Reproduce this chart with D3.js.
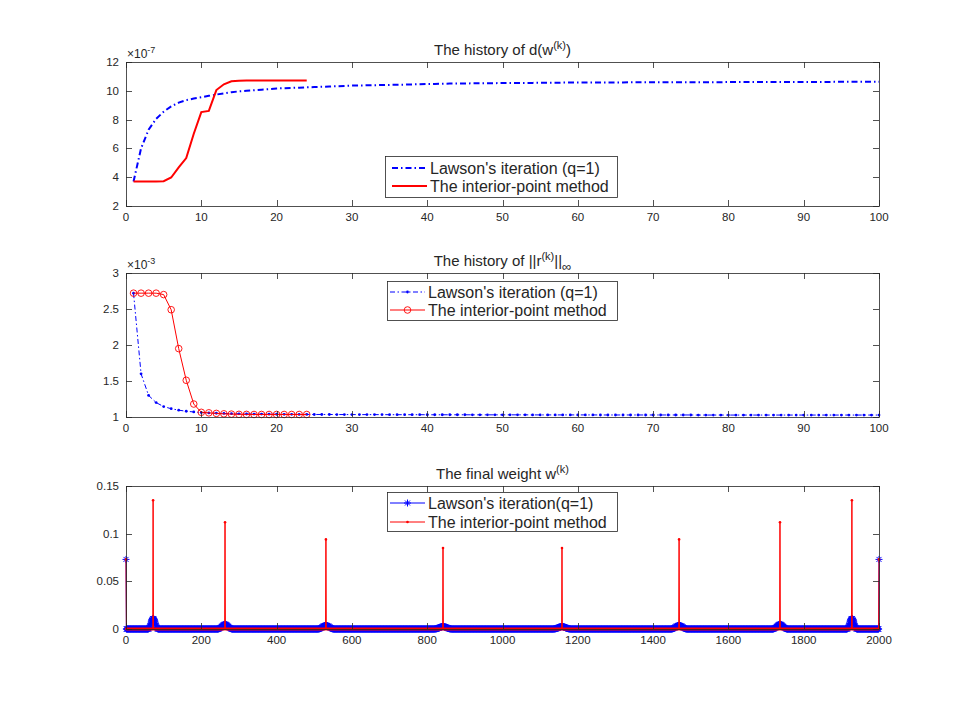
<!DOCTYPE html>
<html><head><meta charset="utf-8">
<script src="https://cdn.jsdelivr.net/npm/d3@7"></script>
<style>
body{margin:0;background:#fff}
svg{display:block}
text{font-family:"Liberation Sans",Arial,Helvetica,sans-serif;fill:#262626}
</style>
</head><body>
<svg id="c" width="972" height="707"></svg>
<script>
// ---------------- DATA ----------------
// Panel 1: history of d(w^(k)), values in units of 1e-7
const lawsonD = [3.70,6.0,7.3,8.05,8.55,8.92,9.18,9.35,9.46,9.55,
 9.65,9.74,9.82,9.9,9.96,10.0,10.04,10.08,10.12,10.16,
 10.18,10.2,10.22,10.24,10.26,10.28,10.3,10.32,10.34,10.36,
 10.37,10.38,10.39,10.4,10.41,10.42,10.43,10.44,10.46,10.47,
 10.48,10.49,10.5,10.5,10.51,10.52,10.52,10.53,10.53,10.54,
 10.54,10.55,10.55,10.55,10.56,10.56,10.56,10.57,10.57,10.57,
 10.57,10.58,10.58,10.58,10.58,10.58,10.59,10.59,10.59,10.59,
 10.59,10.59,10.6,10.6,10.6,10.6,10.6,10.6,10.6,10.61,
 10.61,10.61,10.61,10.61,10.61,10.61,10.61,10.61,10.61,10.61,
 10.61,10.61,10.61,10.62,10.62,10.62,10.62,10.62,10.62,10.62];
const interiorD = [3.7,3.7,3.7,3.7,3.72,3.98,4.68,5.33,7.02,8.52,8.6,10.05,10.45,10.66,10.7,10.72,
 10.72,10.72,10.72,10.72,10.72,10.72,10.72,10.72];
// Panel 2: history of ||r^(k)||_inf, values in units of 1e-3
const lawsonR = [2.72,1.60,1.30,1.20,1.145,1.115,1.095,1.08,1.07,1.062,
 1.056,1.052,1.049,1.046,1.044,1.042,1.041,1.04,1.039,1.038,
 1.037,1.037,1.036,1.036,1.035,1.035,1.035,1.034,1.034,1.034,
 1.033,1.033,1.033,1.033,1.032,1.032,1.032,1.032,1.032,1.031,
 1.031,1.031,1.031,1.031,1.031,1.030,1.030,1.030,1.030,1.030,
 1.030,1.030,1.030,1.029,1.029,1.029,1.029,1.029,1.029,1.029,
 1.029,1.029,1.028,1.028,1.028,1.028,1.028,1.028,1.028,1.028,
 1.028,1.028,1.028,1.028,1.028,1.027,1.027,1.027,1.027,1.027,
 1.027,1.027,1.027,1.027,1.027,1.027,1.027,1.027,1.027,1.027,
 1.027,1.027,1.027,1.027,1.027,1.027,1.027,1.027,1.027,1.027];
const interiorR = [2.72,2.72,2.72,2.72,2.70,2.49,1.95,1.51,1.18,1.065,1.058,1.05,1.044,1.04,1.037,1.036,
 1.035,1.035,1.035,1.035,1.035,1.035,1.035,1.035];
// Panel 3: final weights (index 0..2000); all other entries are 0
const weightCount = 2000;
const interiorSpikeIdx = [0,72,263,531,842,1158,1469,1737,1928,2000];
const interiorSpikeVal = [0.073,0.135,0.112,0.094,0.085,0.085,0.094,0.112,0.135,0.073];
const lawsonEndIdx = [0,2000];
const lawsonEndVal = [0.073,0.073];
const lawsonBumpCenter = [72,263,531,842,1158,1469,1737,1928];
const bumpA = [0.0003,0.0006,0.0011,0.0019,0.003,0.0044,0.0059,0.0074,0.0087,0.0097,0.0104,0.0108,0.011,
 0.0108,0.0104,0.0097,0.0087,0.0074,0.0059,0.0044,0.003,0.0019,0.0011,0.0006,0.0003];
const bumpB = [0.0001,0.0002,0.0003,0.0005,0.0007,0.001,0.0013,0.0017,0.0021,0.0025,0.0029,0.0033,0.0037,0.004,0.0043,0.0046,0.0048,0.0049,0.005,
 0.0049,0.0048,0.0046,0.0043,0.004,0.0037,0.0033,0.0029,0.0025,0.0021,0.0017,0.0013,0.001,0.0007,0.0005,0.0003,0.0002,0.0001];
const bumpC = [0.0001,0.0001,0.0002,0.0003,0.0004,0.0006,0.0008,0.001,0.0013,0.0016,0.0019,0.0022,0.0025,0.0028,0.003,0.0032,0.0034,0.0035,0.0036,0.0037,0.0038,
 0.0037,0.0036,0.0035,0.0034,0.0032,0.003,0.0028,0.0025,0.0022,0.0019,0.0016,0.0013,0.001,0.0008,0.0006,0.0004,0.0003,0.0002,0.0001,0.0001];
const bumpD = [0.0001,0.0001,0.0001,0.0002,0.0002,0.0003,0.0004,0.0005,0.0006,0.0008,0.001,0.0012,0.0014,0.0016,0.0018,0.002,0.0021,0.0022,0.0023,0.0024,0.0025,0.0025,0.0026,
 0.0025,0.0025,0.0024,0.0023,0.0022,0.0021,0.002,0.0018,0.0016,0.0014,0.0012,0.001,0.0008,0.0006,0.0005,0.0004,0.0003,0.0002,0.0002,0.0001,0.0001,0.0001];
const lawsonBumpProfile = [bumpA,bumpB,bumpC,bumpD,bumpD,bumpC,bumpB,bumpA];

// ticks
const iterXTicks = [0,10,20,30,40,50,60,70,80,90,100];
const dYTicks = [2,4,6,8,10,12];
const rYTicks = [1,1.5,2,2.5,3];
const wXTicks = [0,200,400,600,800,1000,1200,1400,1600,1800,2000];
const wYTicks = [0,0.05,0.1,0.15];

// legend labels
const legend1 = ["Lawson's iteration (q=1)","The interior-point method"];
const legend3 = ["Lawson's iteration(q=1)","The interior-point method"];

// ---------------- BUILD SERIES ----------------
const iterL = lawsonD.map((v,i)=>({k:i+1,v}));
const iterI = interiorD.map((v,i)=>({k:i+1,v}));
const resL = lawsonR.map((v,i)=>({k:i+1,v}));
const resI = interiorR.map((v,i)=>({k:i+1,v}));

const wL = new Array(weightCount+1).fill(0);
lawsonBumpCenter.forEach((c,j)=>{
  const p = lawsonBumpProfile[j]; const h=(p.length-1)/2;
  p.forEach((v,o)=>{ wL[c-h+o]=v; });
});
lawsonEndIdx.forEach((c,j)=>{ wL[c]=lawsonEndVal[j]; });
const wI = new Array(weightCount+1).fill(0);
interiorSpikeIdx.forEach((c,j)=>{ wI[c]=interiorSpikeVal[j]; });
const wLpts = wL.map((v,i)=>({k:i,v}));
const wIpts = wI.map((v,i)=>({k:i,v}));

// ---------------- DRAW ----------------
const svg = d3.select("#c");
const L=126, R=879;
const panels = [
  {top:62,bottom:206},
  {top:273,bottom:417},
  {top:486,bottom:629}
];
const axisCol="#262626";

function frame(p){
  const g = svg.append("g");
  g.append("rect").attr("x",L).attr("y",p.top).attr("width",R-L).attr("height",p.bottom-p.top)
    .attr("fill","#fff").attr("stroke","none");
  return g;
}
function axes(g,p,x,y,xt,yt){
  const tl=6;
  const gt=g.append("g").attr("stroke",axisCol).attr("stroke-width",0.8).attr("fill","none");
  gt.append("rect").attr("x",L+0.5).attr("y",p.top+0.5).attr("width",R-L).attr("height",p.bottom-p.top);
  xt.forEach(t=>{
    const px=Math.round(x(t))+0.5;
    gt.append("line").attr("x1",px).attr("x2",px).attr("y1",p.bottom).attr("y2",p.bottom-tl);
    gt.append("line").attr("x1",px).attr("x2",px).attr("y1",p.top).attr("y2",p.top+tl);
    g.append("text").attr("x",x(t)).attr("y",p.bottom+15).attr("text-anchor","middle")
      .attr("font-size","11.5px").text(String(t));
  });
  yt.forEach(t=>{
    const py=Math.round(y(t))+0.5;
    gt.append("line").attr("y1",py).attr("y2",py).attr("x1",L).attr("x2",L+tl);
    gt.append("line").attr("y1",py).attr("y2",py).attr("x1",R).attr("x2",R-tl);
    g.append("text").attr("x",L-7).attr("y",y(t)+4).attr("text-anchor","end")
      .attr("font-size","11.5px").text(String(t));
  });
}
function title(p, parts){
  const t = svg.append("text").attr("x",(L+R)/2).attr("y",p.top-7).attr("text-anchor","middle").attr("font-size","15px");
  parts.forEach(pt=>{
    const s=t.append("tspan").text(pt.t);
    if(pt.dy) s.attr("dy",pt.dy);
    if(pt.fs) s.attr("font-size",pt.fs);
  });
}
function exponent(p, e){
  const t = svg.append("text").attr("x",L+1).attr("y",p.top-4).attr("font-size","12px");
  t.append("tspan").text("\u00d710");
  t.append("tspan").attr("dy",-5).attr("font-size","9px").text(e);
}
function starPath(cx,cy,s){
  const d=s*0.707;
  return `M${cx-s},${cy}L${cx+s},${cy}M${cx},${cy-s}L${cx},${cy+s}M${cx-d},${cy-d}L${cx+d},${cy+d}M${cx-d},${cy+d}L${cx+d},${cy-d}`;
}
function legendBox(x0,y0,x1,y1){
  svg.append("rect").attr("x",x0+0.5).attr("y",y0+0.5).attr("width",x1-x0).attr("height",y1-y0)
    .attr("fill","#fff").attr("stroke",axisCol).attr("stroke-width",0.8);
}

// ---- Panel 1 ----
{
  const p=panels[0];
  const x=d3.scaleLinear().domain([0,100]).range([L,R]);
  const y=d3.scaleLinear().domain([2,12]).range([p.bottom,p.top]);
  const g=frame(p);
  const line=d3.line().x(d=>x(d.k)).y(d=>y(d.v));
  g.append("path").datum(iterL).attr("d",line).attr("fill","none").attr("stroke","#0000ff")
    .attr("stroke-width",2).attr("stroke-dasharray","6,3,1.5,3");
  g.append("path").datum(iterI).attr("d",line).attr("fill","none").attr("stroke","#ff0000")
    .attr("stroke-width",2);
  axes(g,p,x,y,iterXTicks,dYTicks);
  title(p,[{t:"The history of d(w"},{t:"(k)",dy:-6,fs:"11px"},{t:")",dy:6}]);
  exponent(p,"-7");
  legendBox(385,156,617,197);
  const rows=[168,186];
  svg.append("line").attr("x1",392).attr("x2",427).attr("y1",rows[0]).attr("y2",rows[0])
    .attr("stroke","#0000ff").attr("stroke-width",2).attr("stroke-dasharray","6,3,1.5,3");
  svg.append("line").attr("x1",392).attr("x2",427).attr("y1",rows[1]).attr("y2",rows[1])
    .attr("stroke","#ff0000").attr("stroke-width",2);
  legend1.forEach((s,i)=>svg.append("text").attr("x",430).attr("y",rows[i]+6).attr("font-size","16px").text(s));
}

// ---- Panel 2 ----
{
  const p=panels[1];
  const x=d3.scaleLinear().domain([0,100]).range([L,R]);
  const y=d3.scaleLinear().domain([1,3]).range([p.bottom,p.top]);
  const g=frame(p);
  const line=d3.line().x(d=>x(d.k)).y(d=>y(d.v));
  g.append("path").datum(resL).attr("d",line).attr("fill","none").attr("stroke","#0000ff")
    .attr("stroke-width",1).attr("stroke-dasharray","5,2.5,1.5,2.5");
  g.selectAll(".bd").data(resL).enter().append("circle").attr("cx",d=>x(d.k)).attr("cy",d=>y(d.v))
    .attr("r",1.4).attr("fill","#0000ff");
  g.append("path").datum(resI).attr("d",line).attr("fill","none").attr("stroke","#ff0000").attr("stroke-width",1);
  g.selectAll(".rc").data(resI).enter().append("circle").attr("cx",d=>x(d.k)).attr("cy",d=>y(d.v))
    .attr("r",3.3).attr("fill","none").attr("stroke","#ff0000").attr("stroke-width",0.9);
  axes(g,p,x,y,iterXTicks,rYTicks);
  title(p,[{t:"The history of ||r"},{t:"(k)",dy:-6,fs:"11px"},{t:"||",dy:6},{t:"\u221e",dy:5,fs:"13px"}]);
  exponent(p,"-3");
  legendBox(387,281,617,320);
  const rows=[292,310];
  svg.append("line").attr("x1",390).attr("x2",425).attr("y1",rows[0]).attr("y2",rows[0])
    .attr("stroke","#0000ff").attr("stroke-width",1).attr("stroke-dasharray","5,2.5,1.5,2.5");
  svg.append("circle").attr("cx",407.5).attr("cy",rows[0]).attr("r",1.4).attr("fill","#0000ff");
  svg.append("line").attr("x1",390).attr("x2",425).attr("y1",rows[1]).attr("y2",rows[1])
    .attr("stroke","#ff0000").attr("stroke-width",1);
  svg.append("circle").attr("cx",407.5).attr("cy",rows[1]).attr("r",3.3).attr("fill","none").attr("stroke","#ff0000").attr("stroke-width",0.9);
  legend1.forEach((s,i)=>svg.append("text").attr("x",428).attr("y",rows[i]+6).attr("font-size","16px").text(s));
}

// ---- Panel 3 ----
{
  const p=panels[2];
  const x=d3.scaleLinear().domain([0,2000]).range([L,R]);
  const y=d3.scaleLinear().domain([0,0.15]).range([p.bottom,p.top]);
  const g=frame(p);
  const line=d3.line().x(d=>x(d.k)).y(d=>y(d.v));
  g.append("path").datum(wLpts).attr("d",line).attr("fill","none").attr("stroke","#0000ff").attr("stroke-width",1);
  g.append("path").attr("d",wLpts.map(d=>starPath(x(d.k),y(d.v),3.5)).join(""))
    .attr("fill","none").attr("stroke","#0000ff").attr("stroke-width",1);
  g.append("path").datum(wIpts).attr("d",line).attr("fill","none").attr("stroke","#ff0000").attr("stroke-width",1);
  g.selectAll(".rd").data(wIpts).enter().append("circle").attr("cx",d=>x(d.k)).attr("cy",d=>y(d.v))
    .attr("r",1.3).attr("fill","#ff0000");
  axes(g,p,x,y,wXTicks,wYTicks);
  title(p,[{t:"The final weight w"},{t:"(k)",dy:-6,fs:"11px"}]);
  legendBox(387,492,617,531);
  const rows=[503,522];
  svg.append("line").attr("x1",390).attr("x2",425).attr("y1",rows[0]).attr("y2",rows[0])
    .attr("stroke","#0000ff").attr("stroke-width",1);
  svg.append("path").attr("d",starPath(407.5,rows[0],3.5)).attr("fill","none").attr("stroke","#0000ff").attr("stroke-width",1);
  svg.append("line").attr("x1",390).attr("x2",425).attr("y1",rows[1]).attr("y2",rows[1])
    .attr("stroke","#ff0000").attr("stroke-width",1);
  svg.append("circle").attr("cx",407.5).attr("cy",rows[1]).attr("r",1.3).attr("fill","#ff0000");
  legend3.forEach((s,i)=>svg.append("text").attr("x",428).attr("y",rows[i]+6).attr("font-size","16px").text(s));
}
</script>
</body></html>
